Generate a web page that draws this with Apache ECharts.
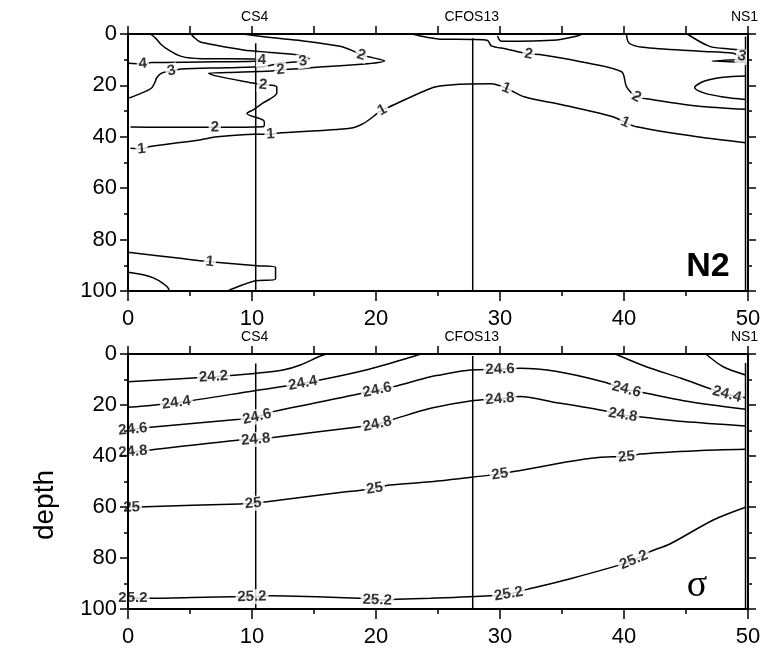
<!DOCTYPE html>
<html><head><meta charset="utf-8">
<script src="https://cdn.jsdelivr.net/npm/echarts@6/dist/echarts.min.js"></script>
<style>html,body{margin:0;padding:0;background:#fff}#c{width:774px;height:657px}</style>
</head><body><div id="c"></div>
<script>
// ---------- data (x = distance, y = depth) ----------
const xTickValues = [0, 10, 20, 30, 40, 50];
const depthTickValues = [0, 20, 40, 60, 80, 100];

const stationNames = ['CS4', 'CFOS13', 'NS1'];
const stationX = [10.3, 27.8, 49.8];
const stationStartN2 = [3.6, 1.7, 1.0];
const stationStartSigma = [3.7, 0.8, 3.5];

// N2 panel contour lines
const n2_c4 = [[0,11.4],[1.2,11.6],[1.9,11.1],[6,10.9],[10.2,10.6],[10.8,10.2],[10.2,9.7],[5.9,9.6],[4.3,8.7],[3.2,6],[2.7,4.2],[2.2,1.5],[1.8,0]];
const n2_c3 = [[0.1,24.9],[1.0,23.2],[1.9,21],[2.2,18.5],[2.3,17.1],[2.7,15.2],[3.5,14.3],[4.3,13.6],[8,13.1],[11,12.6],[12.4,11.3],[14.1,10.6],[14.6,9.6],[13.9,8.3],[11.5,7.2],[9.3,6.2],[7,4.3],[5.8,3],[5.3,1.2],[5.1,0]];
const n2_c2a = [[0.2,36.2],[3,36.3],[7,36.3],[10.9,36.1],[11,34.5],[10.9,33.5],[9.6,30.9],[10.1,29.5],[10.9,26.8],[12,23],[12,20.6],[11.6,19.9],[10.9,19.8],[10.2,19.2],[7.0,16.2],[6.5,15.3],[8,15.0],[11.6,14.4],[12.3,13.9],[14.4,13.3],[20.7,10.4],[18.8,8.2],[18.2,6.7],[17.1,4.8],[14,2.6],[11.5,1.4],[9.3,0]];
const n2_c2b = [[22.9,0],[24,1.2],[25.2,2.0],[27.8,2.1],[29,2.5],[29.3,4.6],[30.5,5.8],[32.3,7.8],[33.2,8.0],[36.5,10.8],[39.8,14.7],[40.2,20.5],[41,24.4],[42.1,25.4],[45.9,28],[49.8,29.3]];
const n2_loop = [[29.8,0.8],[30.1,2.8],[34.6,2.3],[36.2,0.8],[36.6,0]];
const n2_c3r = [[40.2,0],[40.4,3.5],[41.5,5.2],[46.1,6.7],[48.8,7.5],[49.5,8.7],[49.8,8.7]];
const n2_c3s = [[49.8,9.9],[47.1,10.5],[49.8,11.0]];
const n2_c4r = [[45.1,0],[46.9,4.8],[48.5,5.8],[49.8,6.1]];
const n2_lens = [[49.8,16.3],[48,16.8],[46.5,18.3],[45.7,20.8],[46.5,23],[48,24.5],[49.8,25.5]];
const n2_c1 = [[0.2,44.5],[1.1,44.7],[1.8,43.8],[5.8,41.2],[7.2,40],[10.2,39],[11.5,39],[12,38.6],[17.9,36.7],[19,34.8],[20.1,30.9],[20.5,29.6],[21.1,28.3],[24.6,20.8],[26,19.8],[29.3,19.4],[30.5,21.1],[32,24.5],[35,27.5],[39.1,32.2],[40.1,34.4],[41,36.1],[45.9,40],[49.8,42.3]];
const n2_c1b = [[0,84.9],[4.2,87.3],[6.6,88.6],[10.4,90.2],[11.9,90.8],[11.9,95.3],[10.2,96.1],[8.2,99.6],[8.1,100]];
const n2_c0b = [[0,92.7],[2,94.8],[3.3,99.6],[3.3,100]];
const n2Lines = [n2_c4, n2_c3, n2_c2a, n2_c2b, n2_loop, n2_c3r, n2_c3s, n2_c4r, n2_lens, n2_c1, n2_c1b, n2_c0b];
const n2Labels = [[1.2,11.6,'4'],[10.8,10.2,'4'],[3.5,14.3,'3'],[14.1,10.6,'3'],[12.3,13.9,'2'],[18.8,8.2,'2'],[10.9,19.8,'2'],[7.0,36.3,'2'],[1.1,44.7,'1'],[11.5,39,'1'],[20.5,29.6,'1'],[30.5,21.1,'1'],[32.3,7.8,'2'],[41,24.4,'2'],[40.1,34.4,'1'],[49.5,8.7,'3'],[6.6,88.6,'1']];

// sigma panel contour lines
const s_242 = [[0,10.9],[6.9,8.9],[10.2,7.6],[12.5,6.3],[13.9,4.3],[15.5,0.8],[16,0]];
const s_242r = [[46.6,0],[48,5],[49.8,8.2]];
const s_244 = [[0,20.9],[3.9,19.1],[10.2,14.4],[14.1,11.5],[19.2,6.3],[23,1],[23.6,0]];
const s_244r = [[39.3,0],[41.8,5],[44.6,9.5],[46.9,13.5],[48.3,15.8],[49.8,17.2]];
const s_246 = [[0,29.6],[0.4,29.5],[1.8,28.7],[9,25.6],[10.4,24.6],[11.7,22.6],[18.2,16.1],[20.1,14.1],[21.4,12.8],[24.4,8.9],[25.2,8.2],[27.6,6.3],[30,6],[31.6,5.6],[34.6,6.9],[38.3,10.9],[40.2,13.9],[41.6,15.2],[44.8,18.3],[49.8,21.7]];
const s_248 = [[0,38.3],[0.4,38.3],[1.8,37.6],[9,33.7],[10.3,33.5],[11.7,32.7],[18.7,28.5],[20.1,27.5],[21.4,25.6],[24.4,21.3],[27.6,18.4],[30,17.6],[31.6,16.7],[34.6,19.1],[38.3,22.2],[39.9,23.9],[41.6,24.8],[44.8,26.5],[49.8,28.2]];
const s_250 = [[0,60.1],[0.3,60.1],[1.4,59.9],[9,58.8],[10.1,58.6],[11.2,57.9],[16.6,54.6],[19.9,52.7],[21.1,51.4],[24.4,50.1],[29.2,47.5],[30,47.1],[31.1,46.1],[39.1,40.3],[40.2,40.3],[41.3,39.2],[45.9,37.9],[49.8,37.4]];
const s_252 = [[0,95.8],[0.4,95.8],[1.8,95.8],[8.5,95.2],[10,95.2],[11.5,94.8],[18.7,95.8],[20.1,96.5],[21.7,96.2],[24.4,95.8],[29.2,94.8],[30.7,94.1],[32.2,92.3],[35.6,88.2],[39.4,83.1],[40.8,80.8],[42.1,77.5],[43.7,74.5],[47.2,65.1],[49.8,60.1]];
const sLines = [s_242, s_242r, s_244, s_244r, s_246, s_248, s_250, s_252];
const sLabels = [[6.9,8.9,'24.2'],[3.9,19.1,'24.4'],[14.1,11.5,'24.4'],[48.3,15.8,'24.4'],[0.4,29.5,'24.6'],[10.4,24.6,'24.6'],[20.1,14.1,'24.6'],[30,6,'24.6'],[40.2,13.9,'24.6'],[0.4,38.3,'24.8'],[10.3,33.5,'24.8'],[20.1,27.5,'24.8'],[30,17.6,'24.8'],[39.9,23.9,'24.8'],[0.3,60.1,'25'],[10.1,58.6,'25'],[19.9,52.7,'25'],[30,47.1,'25'],[40.2,40.3,'25'],[0.4,95.8,'25.2'],[10,95.2,'25.2'],[20.1,96.5,'25.2'],[30.7,94.1,'25.2'],[40.8,80.8,'25.2']];

// ---------- chart ----------
const FONT = 'Liberation Sans';
const chart = echarts.init(document.getElementById('c'), null, {renderer: 'canvas'});
const grids = [
  {left: 128, top: 34, width: 620, height: 257},
  {left: 128, top: 354, width: 620, height: 255}
];
function xBottom(g) {
  return {type: 'value', gridIndex: g, position: 'bottom', min: 0, max: 50, interval: 10, z: 10,
    axisLine: {onZero: false, lineStyle: {color: '#000', width: 2}},
    axisTick: {length: 10, lineStyle: {color: '#000', width: 1.5}},
    minorTick: {show: true, splitNumber: 2, length: 5, lineStyle: {color: '#000', width: 1.5}},
    splitLine: {show: false},
    axisLabel: {fontSize: 22, color: '#000', margin: 17, fontFamily: FONT,
      customValues: xTickValues}};
}
function xTop(g) {
  return {type: 'value', gridIndex: g, position: 'top', min: 0, max: 50, interval: 5, z: 10,
    axisLine: {onZero: false, lineStyle: {color: '#000', width: 2}},
    axisTick: {length: 8, lineStyle: {color: '#000', width: 1.5}},
    splitLine: {show: false}, axisLabel: {show: false}};
}
function yLeft(g) {
  return {type: 'value', gridIndex: g, position: 'left', inverse: true, min: 0, max: 100, interval: 20, z: 10,
    axisLine: {onZero: false, lineStyle: {color: '#000', width: 2}},
    axisTick: {length: 8, lineStyle: {color: '#000', width: 1.5}},
    minorTick: {show: true, splitNumber: 2, length: 4, lineStyle: {color: '#000', width: 1.5}},
    splitLine: {show: false},
    axisLabel: {fontSize: 22, color: '#000', margin: 11, fontFamily: FONT}};
}
function yRight(g) {
  return {type: 'value', gridIndex: g, position: 'right', inverse: true, min: 0, max: 100, interval: 20, z: 10,
    axisLine: {onZero: false, lineStyle: {color: '#000', width: 2}},
    axisTick: {length: 8, lineStyle: {color: '#000', width: 1.5}},
    minorTick: {show: true, splitNumber: 2, length: 4, lineStyle: {color: '#000', width: 1.5}},
    splitLine: {show: false}, axisLabel: {show: false}};
}

const series = [];
function addLines(lines, g) {
  lines.forEach(L => series.push({type: 'line', xAxisIndex: g * 2, yAxisIndex: g * 2, data: L,
    symbol: 'none', smooth: 0.3, silent: true, z: 2,
    lineStyle: {color: '#000', width: 1.5}}));
}
addLines(n2Lines, 0);
addLines(sLines, 1);
function addStations(starts, g) {
  stationX.forEach((sx, i) => series.push({type: 'line', xAxisIndex: g * 2, yAxisIndex: g * 2,
    data: [[sx, starts[i]], [sx, 100]], symbol: 'none', silent: true, z: 3,
    lineStyle: {color: '#000', width: 1.5}}));
}
addStations(stationStartN2, 0);
addStations(stationStartSigma, 1);

function labelSeries(labels, g, rots) {
  return {type: 'scatter', xAxisIndex: g * 2, yAxisIndex: g * 2, symbolSize: 1, silent: true, z: 5,
    itemStyle: {color: 'rgba(0,0,0,0)'},
    data: labels.map((l, i) => ({value: [l[0], l[1], l[2]], label: {rotate: rots ? rots[i] : 0}})),
    label: {show: true, position: 'inside', formatter: p => p.value[2], color: '#000',
      fontSize: 15, fontWeight: 'bold', fontFamily: FONT, backgroundColor: '#fff', padding: [0, 2]}};
}

chart.setOption({
  animation: false,
  backgroundColor: '#fff',
  textStyle: {fontFamily: FONT},
  grid: grids,
  xAxis: [xBottom(0), xTop(0), xBottom(1), xTop(1)],
  yAxis: [yLeft(0), yRight(0), yLeft(1), yRight(1)],
  series: series.concat([labelSeries(n2Labels, 0), labelSeries(sLabels, 1)])
});

function rotations(labels, lines, g) {
  return labels.map(l => {
    const p = chart.convertToPixel({gridIndex: g}, [l[0], l[1]]);
    let best = null, bd = Infinity;
    lines.forEach(L => {
      const px = L.map(q => chart.convertToPixel({gridIndex: g}, q));
      px.forEach((v, i) => {
        const d = Math.hypot(v[0] - p[0], v[1] - p[1]);
        if (d < bd) { bd = d; best = [px[Math.max(0, i - 1)], px[Math.min(px.length - 1, i + 1)]]; }
      });
    });
    let dx = best[1][0] - best[0][0], dy = best[1][1] - best[0][1];
    if (dx < 0) { dx = -dx; dy = -dy; }
    let a = -Math.atan2(dy, dx) * 180 / Math.PI;
    if (a > 90) a -= 180; if (a < -90) a += 180;
    if (Math.abs(a) > 45) a = 0;
    return a;
  });
}
const n2Rot = rotations(n2Labels, n2Lines, 0);
const sRot = rotations(sLabels, sLines, 1);

const graphics = [];
[0, 1].forEach(g => {
  stationNames.forEach((name, i) => {
    const p = chart.convertToPixel({gridIndex: g}, [stationX[i], 0]);
    graphics.push({type: 'text', x: p[0] - 1, y: grids[g].top - 17,
      style: {text: name, fontSize: 14, fontFamily: FONT, fill: '#000', align: 'center', verticalAlign: 'middle'}});
  });
});
graphics.push({type: 'text', x: 708, y: 267, style: {text: 'N2', fontSize: 34, fontWeight: 'bold', fontFamily: FONT, fill: '#000', align: 'center', verticalAlign: 'middle'}});
graphics.push({type: 'text', x: 697, y: 586, style: {text: 'σ', fontSize: 38, fontFamily: 'Liberation Serif', fill: '#000', align: 'center', verticalAlign: 'middle'}});
graphics.push({type: 'text', x: 45, y: 505, rotation: Math.PI / 2, style: {text: 'depth', fontSize: 28, fontFamily: FONT, fill: '#000', align: 'center', verticalAlign: 'middle'}});

chart.setOption({
  series: series.concat([labelSeries(n2Labels, 0, n2Rot), labelSeries(sLabels, 1, sRot)]),
  graphic: graphics
});
</script></body></html>
